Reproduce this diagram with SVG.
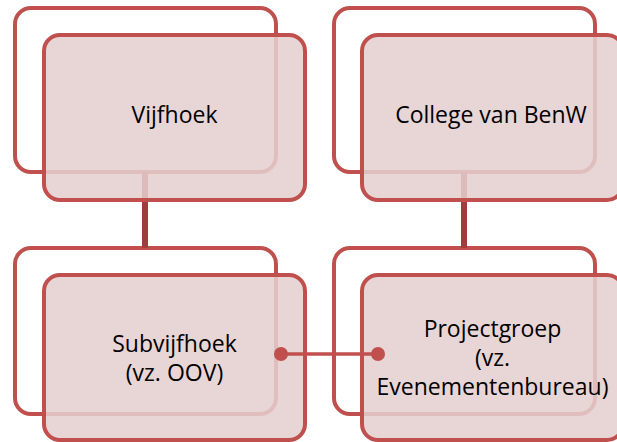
<svg xmlns="http://www.w3.org/2000/svg" width="617" height="442" viewBox="0 0 617 442">
<style>
.back{fill:#ffffff;stroke:#C0504D;stroke-width:4}
.front{fill:#E5CFCF;fill-opacity:0.87;stroke:#C0504D;stroke-width:4}
.vline{stroke:#9E3D3B;stroke-width:6;fill:none}
.hline{stroke:#C0504D;stroke-width:3.5;fill:none}
.dot{fill:#C0504D}
text{font-family:"Open Sans","Noto Sans","Liberation Sans",sans-serif;font-size:23px;fill:#000;text-anchor:middle}
</style>
<rect width="617" height="442" fill="#ffffff"/>
<g id="vijfhoek">
<rect class="back" x="15" y="8" width="261" height="164" rx="16"/>
</g>
<g id="college">
<rect class="back" x="334" y="8" width="261" height="164" rx="16"/>
</g>
<g id="subvijfhoek">
<rect class="back" x="15" y="248" width="261" height="166" rx="16"/>
</g>
<g id="projectgroep">
<rect class="back" x="334" y="248" width="261" height="166" rx="16"/>
</g>
<g id="connectors-vertical">
<line class="vline" x1="145" y1="172" x2="145" y2="248"/>
<line class="vline" x1="464" y1="172" x2="464" y2="248"/>
</g>
<g id="vijfhoek-front">
<rect class="front" x="44" y="35" width="261" height="165" rx="16"/>
<text x="174.5" y="123">Vijfhoek</text>
</g>
<g id="college-front">
<rect class="front" x="362" y="35" width="261" height="165" rx="16"/>
<text x="491" y="123">College van BenW</text>
</g>
<g id="subvijfhoek-front">
<rect class="front" x="44" y="275" width="261" height="165" rx="16"/>
<text x="174.5" y="352">Subvijfhoek</text>
<text x="174.5" y="381">(vz. OOV)</text>
</g>
<g id="projectgroep-front">
<rect class="front" x="362" y="275" width="261" height="165" rx="16"/>
<text x="492.5" y="337">Projectgroep</text>
<text x="492.5" y="366">(vz.</text>
<text x="492.5" y="395">Evenementenbureau)</text>
</g>
<g id="connectors">
<line class="hline" x1="281" y1="354" x2="378" y2="354"/>
<circle class="dot" cx="281" cy="354" r="7"/>
<circle class="dot" cx="378" cy="354" r="7"/>
</g>
</svg>
